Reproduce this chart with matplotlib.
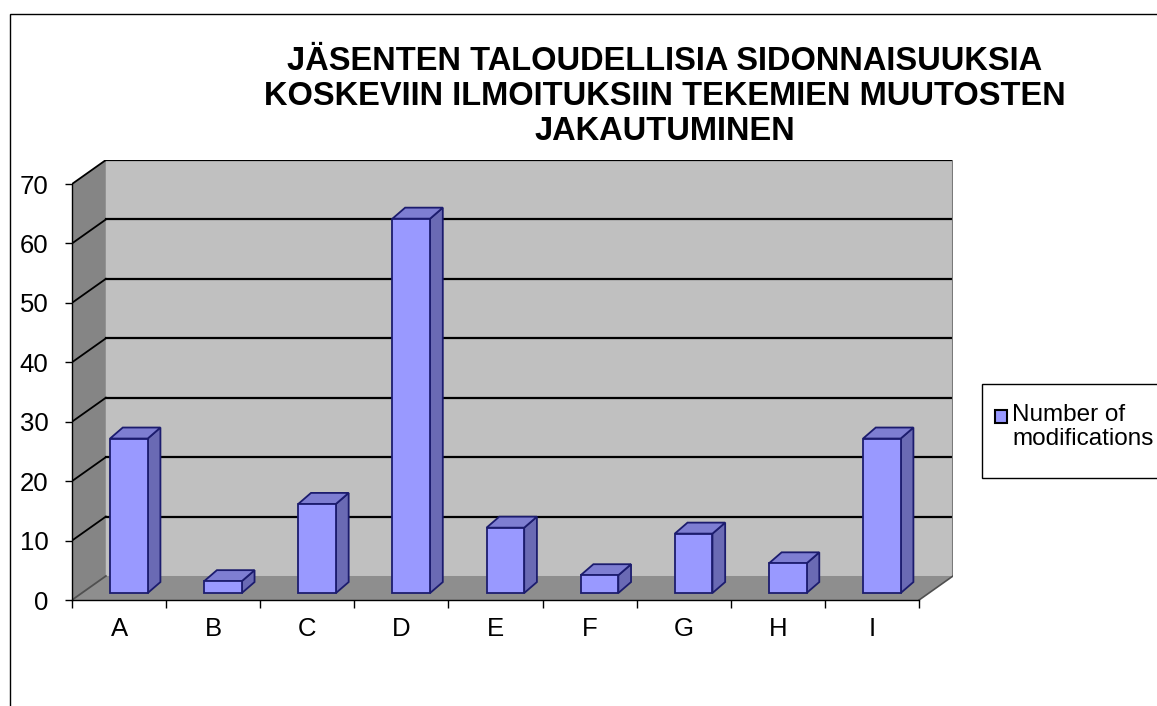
import matplotlib
matplotlib.use("Agg")
import matplotlib.pyplot as plt
from matplotlib.patches import Polygon, Rectangle
import numpy as np

# data
categories = ["A", "B", "C", "D", "E", "F", "G", "H", "I"]
modifications = [26, 2, 15, 63, 11, 3, 10, 5, 26]
y_ticks = [0, 10, 20, 30, 40, 50, 60, 70]
series_label = "Number of\nmodifications"
title = ("JÄSENTEN TALOUDELLISIA SIDONNAISUUKSIA\n"
         "KOSKEVIIN ILMOITUKSIIN TEKEMIEN MUUTOSTEN\n"
         "JAKAUTUMINEN")

# layout / style
W, H = 1157, 706
DEPTH_X, DEPTH_Y = 0.36, 4.04     # back wall offset (categories, value units)
BAR_POS = 0.29                    # bar front face position inside the depth
BAR_W = 0.40
BAR_DX, BAR_DY = 0.135, 1.85      # bar depth (side / top faces)

FRONT = "#9999FF"
SIDE = "#6A6AB4"
TOP = "#7E7ED2"
EDGE = "#1C1C6E"
WALL = "#C0C0C0"
SIDE_WALL = "#858585"
FLOOR = "#8E8E8E"

plt.rcParams["font.family"] = ["Liberation Sans", "DejaVu Sans"]

fig = plt.figure(figsize=(W / 100, H / 100), dpi=100)


def fx(x):
    return x / W


def fy(y):
    return 1 - y / H


ax = fig.add_axes([fx(72), fy(600), fx(953) - fx(72), fy(160) - fy(600)])
ax.set_facecolor("none")

n = len(categories)
x = np.arange(n)
x0, x1 = -0.5, n - 0.5
top = y_ticks[-1]

# walls + floor
ax.add_patch(Rectangle((x0 + DEPTH_X, DEPTH_Y), n, top, fc=WALL, ec="none", zorder=0))
ax.add_patch(Polygon([(x0, 0), (x0, top), (x0 + DEPTH_X, top + DEPTH_Y),
                      (x0 + DEPTH_X, DEPTH_Y)], fc=SIDE_WALL, ec="none", zorder=0))
ax.add_patch(Polygon([(x0, 0), (x1, 0), (x1 + DEPTH_X, DEPTH_Y),
                      (x0 + DEPTH_X, DEPTH_Y)], fc=FLOOR, ec="none", zorder=0.5))

# gridlines on the back wall and the side wall
for v in y_ticks[1:]:
    ax.plot([x0 + DEPTH_X, x1 + DEPTH_X], [v + DEPTH_Y] * 2, color="black", lw=1.6, zorder=1)
for v in y_ticks:
    ax.plot([x0, x0 + DEPTH_X], [v, v + DEPTH_Y], color="black" if v else "#505050",
            lw=1.3, zorder=1)
ax.plot([x1 + DEPTH_X] * 2, [DEPTH_Y, top + DEPTH_Y], color="#7A7A7A", lw=1.5, zorder=1)
ax.plot([x1, x1 + DEPTH_X], [0, DEPTH_Y], color="#505050", lw=1.2, zorder=1)

# bars (front face + side + top)
bars = ax.bar(x + BAR_POS * DEPTH_X, modifications, width=BAR_W, bottom=BAR_POS * DEPTH_Y,
              color=FRONT, edgecolor=EDGE, lw=1.3, zorder=4)
for b in bars:
    l, r = b.get_x(), b.get_x() + b.get_width()
    b0 = b.get_y()
    t = b0 + b.get_height()
    ax.add_patch(Polygon([(r, b0), (r + BAR_DX, b0 + BAR_DY), (r + BAR_DX, t + BAR_DY), (r, t)],
                         fc=SIDE, ec=EDGE, lw=1.3, zorder=3))
    ax.add_patch(Polygon([(l, t), (r, t), (r + BAR_DX, t + BAR_DY), (l + BAR_DX, t + BAR_DY)],
                         fc=TOP, ec=EDGE, lw=1.3, zorder=3))

ax.set_xlim(x0, x1 + DEPTH_X)
ax.set_ylim(0, top + DEPTH_Y)

for s in ("top", "right"):
    ax.spines[s].set_visible(False)
ax.spines["left"].set_bounds(0, top)
ax.spines["bottom"].set_bounds(x0, x1)
for s in ("left", "bottom"):
    ax.spines[s].set_linewidth(1.0)
    ax.spines[s].set_zorder(5)

ax.set_yticks(y_ticks)
ax.tick_params(axis="y", length=5, width=1, labelsize=18.5, pad=12)
ax.set_xticks(np.arange(n + 1) - 0.5)
ax.set_xticklabels([])
ax.set_xticks(x, categories, minor=True)
ax.tick_params(axis="x", which="major", length=6, width=1)
ax.tick_params(axis="x", which="minor", length=0, labelsize=18.5, pad=12)

# title
fig.text(fx(665), fy(46), title, ha="center", va="top", fontsize=23.5,
         fontweight="bold", linespacing=1.17, multialignment="center")

# legend box
fig.add_artist(Rectangle((fx(982), fy(478)), fx(1300) - fx(982), fy(384) - fy(478),
                         transform=fig.transFigure, fc="white", ec="black", lw=1))
fig.add_artist(Rectangle((fx(995), fy(423)), fx(12), fy(410) - fy(423),
                         transform=fig.transFigure, fc=FRONT, ec="black", lw=1.5))
fig.text(fx(1012), fy(404), series_label, ha="left", va="top", fontsize=17.5,
         linespacing=1.12)

# chart area border
fig.add_artist(Rectangle((fx(10), fy(1000)), fx(1400), fy(14) - fy(1000),
                         transform=fig.transFigure, fill=False, ec="black", lw=1))

fig.savefig("out.png", dpi=100)
